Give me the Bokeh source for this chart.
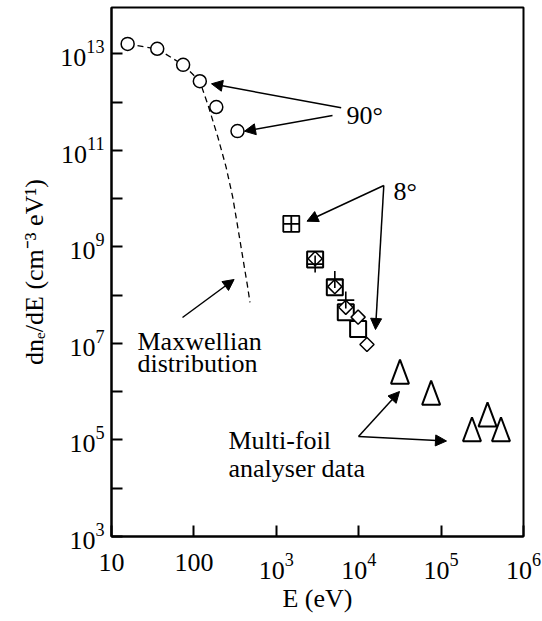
import numpy as np
from bokeh.plotting import figure
from bokeh.models import (Label, Arrow, NormalHead, FixedTicker, LogTickFormatter, Range1d)
from bokeh.embed import file_html
from bokeh.resources import INLINE

# ---------------- data ----------------
e_90 = [15.7, 35.9, 74, 118, 187, 338]
f_90 = [1.6e13, 1.27e13, 5.9e12, 2.7e12, 7.9e11, 2.5e11]

e_maxw = [15.7, 35.9, 74, 118, 151, 195, 245, 295, 339, 389, 447, 479]
f_maxw = [1.6e13, 1.26e13, 5.9e12, 2.7e12, 7.9e11, 1.9e11, 4.6e10, 1.1e10, 2.7e9, 6.5e8, 1.55e8, 7.1e7]

e_8_sqcross = [1520]
f_8_sqcross = [3.0e9]
e_8_square = [2960, 5130, 6970, 9840]
f_8_square = [5.5e8, 1.46e8, 4.4e7, 2.0e7]
e_8_diamond = [2960, 5130, 6970, 9840, 12600]
f_8_diamond = [5.7e8, 1.5e8, 5.6e7, 3.5e7, 9.5e6]
e_8_plus = [2960, 5130, 6970]
f_8_plus = [4.4e8, 2.1e8, 7.9e7]

e_multifoil = [31700, 75700, 2.37e5, 3.66e5, 5.33e5]
f_multifoil = [2.15e6, 7.9e5, 1.38e5, 2.79e5, 1.38e5]

x_ticks = [10, 100, 1e3, 1e4, 1e5, 1e6]
y_major_ticks = [1e3, 1e5, 1e7, 1e9, 1e11, 1e13]
y_minor_ticks = [1e4, 1e6, 1e8, 1e10, 1e12]

x_title = "E (eV)"
y_title = "dn\u2091/dE (cm\u207b\u00b3 eV\u00b9)"

# ---------------- geometry ----------------
W, H = 542, 621
FL, FR, FT, FB = 111, 523, 7, 536
XLO, XHI = 1.0, 6.0
YLO, YHI = 3.0, 13.959

FONT = "Liberation Serif"
FS = "26px"


def X(px):
    return 10 ** (XLO + (px - FL) / (FR - FL) * (XHI - XLO))


def Y(py):
    return 10 ** (YLO + (FB - py) / (FB - FT) * (YHI - YLO))


p = figure(width=W, height=H, x_axis_type="log", y_axis_type="log",
           x_range=Range1d(10 ** XLO, 10 ** XHI), y_range=Range1d(10 ** YLO, 10 ** YHI),
           output_backend="svg", toolbar_location=None,
           min_border_left=FL, min_border_right=W - FR, min_border_top=FT, min_border_bottom=H - FB)
p.background_fill_color = "white"
p.border_fill_color = "white"
p.outline_line_color = "black"
p.outline_line_width = 2
p.xgrid.visible = False
p.ygrid.visible = False

xa = p.xaxis[0]
ya = p.yaxis[0]
xa.ticker = FixedTicker(ticks=x_ticks, minor_ticks=[])
xa.formatter = LogTickFormatter(min_exponent=3)
ya.ticker = FixedTicker(ticks=y_major_ticks, minor_ticks=y_minor_ticks)
ya.formatter = LogTickFormatter()
for ax in (xa, ya):
    ax.axis_line_width = 2
    ax.axis_line_color = "black"
    ax.major_tick_in = 11
    ax.major_tick_out = 0
    ax.minor_tick_in = 11
    ax.minor_tick_out = 0
    ax.major_tick_line_width = 2
    ax.minor_tick_line_width = 2
    ax.major_tick_line_color = "black"
    ax.minor_tick_line_color = "black"
    ax.major_label_text_font = FONT
    ax.major_label_text_font_size = FS
    ax.major_label_text_color = "black"
    ax.axis_label_text_font = FONT
    ax.axis_label_text_font_size = FS
    ax.axis_label_text_font_style = "normal"
    ax.axis_label_text_color = "black"
xa.major_label_standoff = 17
ya.major_label_standoff = 7
xa.axis_label = x_title
ya.axis_label = y_title
xa.axis_label_standoff = 2
ya.axis_label_standoff = 8

# ---------------- marks ----------------
p.line(e_maxw, f_maxw, line_color="black", line_width=1.3, line_dash="6 4")
p.scatter(e_90, f_90, marker="circle", size=13, fill_color="white",
          line_color="black", line_width=1.5)

p.scatter(e_8_sqcross, f_8_sqcross, marker="square_cross", size=16, fill_color=None,
          line_color="black", line_width=1.8)
p.scatter(e_8_square, f_8_square, marker="square", size=16, fill_color=None,
          line_color="black", line_width=2)
p.scatter(e_8_diamond, f_8_diamond, marker="square", angle=np.pi / 4, size=10,
          fill_color="white", line_color="black", line_width=1.5)
p.scatter(e_8_plus, f_8_plus, marker="cross", size=17,
          line_color="black", line_width=1.6)

# tall triangles for the multi-foil data
hw, up, dn = 0.109, 0.331, 0.166
tri_x = [[x * 10 ** -hw, x * 10 ** hw, x] for x in e_multifoil]
tri_y = [[y * 10 ** -dn, y * 10 ** -dn, y * 10 ** up] for y in f_multifoil]
p.patches(tri_x, tri_y, fill_color="white", line_color="black", line_width=2)


# ---------------- annotations inside the frame ----------------
def lab(text, px, py):
    p.add_layout(Label(x=X(px), y=Y(py), text=text, text_font=FONT, text_font_size=FS,
                       text_color="black", text_align="left", text_baseline="alphabetic"))


lab("90\u00b0", 346, 115)
lab("8\u00b0", 393, 191)
lab("Maxwellian", 137, 341)
lab("distribution", 137, 363)
lab("Multi-foil", 228, 440)
lab("analyser data", 228, 468)

arrows = [
    ((340.7, 107.3), (211, 83.3)),
    ((332, 115), (244, 130.7)),
    ((383.3, 185), (306.5, 220.7)),
    ((383.3, 185), (375, 329)),
    ((182, 317), (233.6, 279)),
    ((358, 436), (399, 391)),
    ((358, 436), (446, 440.5)),
]
for (x0, y0), (x1, y1) in arrows:
    p.add_layout(Arrow(end=NormalHead(size=11, fill_color="black", line_color="black", line_width=1),
                       x_start=X(x0), y_start=Y(y0), x_end=X(x1), y_end=Y(y1),
                       line_color="black", line_width=1.5))

open("out.html", "w").write(file_html(p, INLINE))
